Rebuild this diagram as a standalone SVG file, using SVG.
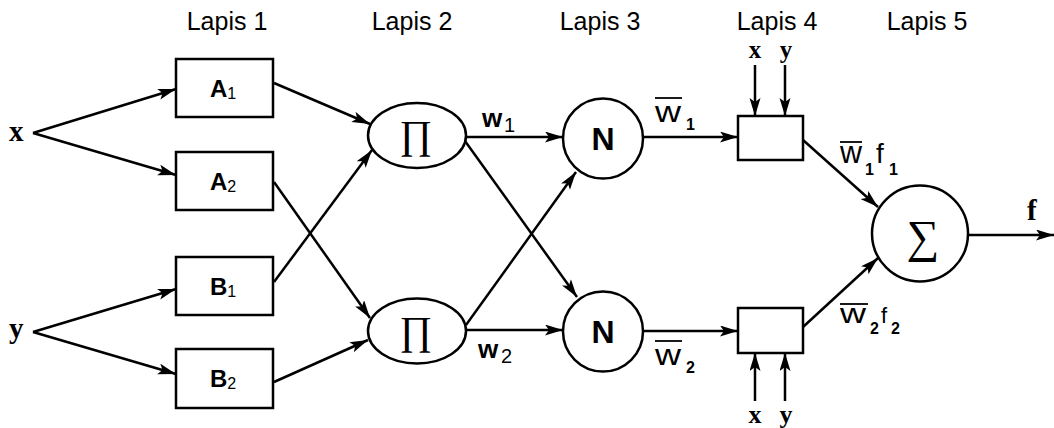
<svg xmlns="http://www.w3.org/2000/svg" width="1054" height="428" viewBox="0 0 1054 428">
<style>
.shape{fill:#fff;stroke:#000;stroke-width:2.5}
.edge{fill:none;stroke:#000;stroke-width:2.5}
.lapis{font-family:"Liberation Sans",Arial,sans-serif;font-size:25px;text-anchor:middle}
.var{font-family:"Liberation Serif","Times New Roman",serif;font-size:29px;font-weight:bold}
.lbl{font-family:"Liberation Sans",Arial,sans-serif}
.sym{font-family:"Liberation Serif","Times New Roman",serif;text-anchor:middle}
.bar{stroke:#000;stroke-width:1.8}
</style>
<defs>
<marker id="arr" markerUnits="userSpaceOnUse" markerWidth="20" markerHeight="12" refX="18" refY="5.5" orient="auto">
<path d="M0,0 L18,5.5 L0,11 L4,5.5 z" fill="#000"/>
</marker>
</defs>
<g id="layer-titles">
<text class="lapis" x="227" y="30">Lapis 1</text>
<text class="lapis" x="412" y="30">Lapis 2</text>
<text class="lapis" x="600" y="30">Lapis 3</text>
<text class="lapis" x="777" y="30">Lapis 4</text>
<text class="lapis" x="927" y="30">Lapis 5</text>
</g>
<g id="connectors" class="edge" marker-end="url(#arr)">
<line x1="33" y1="133" x2="176" y2="89"/>
<line x1="33" y1="133" x2="176" y2="175"/>
<line x1="33" y1="332" x2="176" y2="289"/>
<line x1="33" y1="332" x2="176" y2="374"/>
<line x1="274" y1="83" x2="370" y2="124"/>
<line x1="274" y1="282" x2="372" y2="150"/>
<line x1="274" y1="182" x2="370" y2="318"/>
<line x1="274" y1="382" x2="368" y2="340"/>
<line x1="467" y1="137" x2="563" y2="137"/>
<line x1="465" y1="141" x2="577" y2="297"/>
<line x1="466" y1="325" x2="576" y2="172"/>
<line x1="467" y1="330" x2="563" y2="330"/>
<line x1="643" y1="137" x2="738" y2="137"/>
<line x1="643" y1="331" x2="738" y2="331"/>
<line x1="755" y1="65" x2="755" y2="116"/>
<line x1="785" y1="65" x2="785" y2="116"/>
<line x1="755" y1="401" x2="755" y2="353"/>
<line x1="785" y1="401" x2="785" y2="353"/>
<line x1="803" y1="140" x2="878" y2="207"/>
<line x1="803" y1="327" x2="878" y2="258"/>
<line x1="968" y1="235" x2="1054" y2="235"/>
</g>
<g id="input-x"><text class="var" x="9" y="141">x</text></g>
<g id="input-y"><text class="var" x="9" y="338">y</text></g>
<g id="A1">
<rect class="shape" x="176" y="59" width="97" height="58"/>
<text class="lbl" x="210" y="97" font-size="24"><tspan font-weight="bold">A</tspan><tspan font-size="16" dy="2">1</tspan></text>
</g>
<g id="A2">
<rect class="shape" x="176" y="152" width="97" height="58"/>
<text class="lbl" x="210" y="190" font-size="24"><tspan font-weight="bold">A</tspan><tspan font-size="16" dy="2">2</tspan></text>
</g>
<g id="B1">
<rect class="shape" x="176" y="257" width="97" height="58"/>
<text class="lbl" x="210" y="295" font-size="24"><tspan font-weight="bold">B</tspan><tspan font-size="16" dy="2">1</tspan></text>
</g>
<g id="B2">
<rect class="shape" x="176" y="349" width="97" height="59"/>
<text class="lbl" x="210" y="387" font-size="24"><tspan font-weight="bold">B</tspan><tspan font-size="16" dy="2">2</tspan></text>
</g>
<g id="P1">
<ellipse class="shape" cx="417" cy="135.5" rx="49" ry="32.5"/>
<text class="sym" x="416" y="148" font-size="40">∏</text>
</g>
<g id="P2">
<ellipse class="shape" cx="417" cy="331" rx="49" ry="32.5"/>
<text class="sym" x="416" y="344" font-size="40">∏</text>
</g>
<g id="w-labels">
<text class="lbl" x="482" y="127" font-size="26" font-weight="bold">w</text>
<text class="lbl" x="504" y="132" font-size="20">1</text>
<text class="lbl" x="478" y="358" font-size="26" font-weight="bold">w</text>
<text class="lbl" x="501" y="363" font-size="20">2</text>
</g>
<g id="N1">
<circle class="shape" cx="603" cy="138.5" r="40"/>
<text class="lbl" x="603" y="150" font-size="32" font-weight="bold" text-anchor="middle">N</text>
</g>
<g id="N2">
<circle class="shape" cx="603" cy="331.5" r="40"/>
<text class="lbl" x="603" y="343" font-size="32" font-weight="bold" text-anchor="middle">N</text>
</g>
<g id="wbar-labels">
<line class="bar" x1="655" y1="98" x2="682" y2="98"/>
<text class="lbl" x="655" y="122" font-size="30" textLength="26" lengthAdjust="spacingAndGlyphs">w</text>
<text class="lbl" x="686" y="130" font-size="16" font-weight="bold">1</text>
<line class="bar" x1="655" y1="341" x2="682" y2="341"/>
<text class="lbl" x="655" y="365" font-size="30" textLength="26" lengthAdjust="spacingAndGlyphs">w</text>
<text class="lbl" x="686" y="373" font-size="16" font-weight="bold">2</text>
</g>
<g id="L4a">
<rect class="shape" x="738" y="116" width="65" height="44"/>
<text class="var" x="755" y="58" text-anchor="middle" font-size="25" style="font-size:25px">x</text>
<text class="var" x="786" y="58" text-anchor="middle" style="font-size:25px">y</text>
</g>
<g id="L4b">
<rect class="shape" x="738" y="308" width="65" height="45"/>
<text class="var" x="755" y="423" text-anchor="middle" style="font-size:26px">x</text>
<text class="var" x="786" y="423" text-anchor="middle" style="font-size:26px">y</text>
</g>
<g id="wf-labels">
<line class="bar" x1="840" y1="142" x2="862" y2="142"/>
<text class="lbl" x="840" y="163" font-size="32" textLength="22" lengthAdjust="spacingAndGlyphs">w</text>
<text class="lbl" x="865" y="175" font-size="16" font-weight="bold">1</text>
<text class="lbl" x="876" y="163" font-size="28">f</text>
<text class="lbl" x="889" y="175" font-size="16" font-weight="bold">1</text>
<line class="bar" x1="840" y1="304" x2="868" y2="304"/>
<text class="lbl" x="840" y="323" font-size="27" textLength="26" lengthAdjust="spacingAndGlyphs">w</text>
<text class="lbl" x="870" y="334" font-size="16" font-weight="bold">2</text>
<text class="lbl" x="881" y="323" font-size="22">f</text>
<text class="lbl" x="891" y="334" font-size="16" font-weight="bold">2</text>
</g>
<g id="Sum">
<circle class="shape" cx="920" cy="233.5" r="48"/>
<text class="sym" x="923" y="252" font-size="46">∑</text>
</g>
<g id="output-f"><text class="var" x="1027" y="220">f</text></g>
</svg>
